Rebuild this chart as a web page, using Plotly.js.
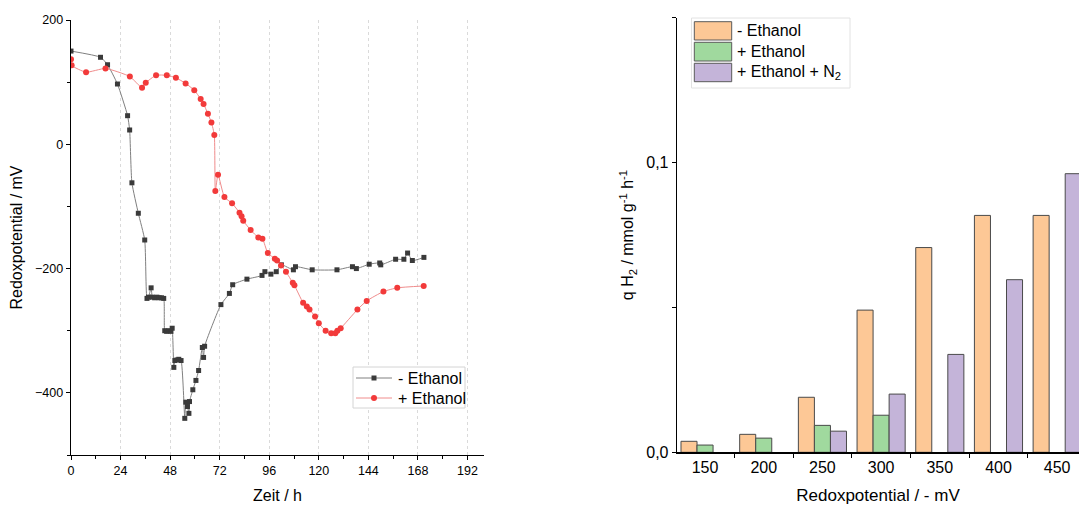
<!DOCTYPE html>
<html>
<head>
<meta charset="utf-8">
<script src="https://cdn.plot.ly/plotly-3.0.1.min.js"></script>
<style>html,body{margin:0;padding:0;background:#fff;}#chart{width:1079px;height:506px;}</style>
</head>
<body>
<div id="chart"></div>
<script>
// ---- Left chart: redox potential over time ----
const timeMinusEthanol = [0,14.3,17.7,22.5,27.4,28.4,29.5,32.6,35.7,36.8,37.5,38.8,39.4,40.5,41.6,42.7,43.8,44.9,45.4,46.3,47.4,48.4,49.0,49.8,50.3,51.3,52.2,53.3,55.1,55.6,56.4,57.1,57.4,59.0,60.5,61.8,63.6,64.2,64.7,72.6,76.7,78.3,85.2,92.5,93.9,96.8,99.4,101.9,107.7,108.7,116.8,128.8,136.3,138.2,144.4,149.5,150.0,157.2,161.2,163.0,165.3,170.9];
const redoxMinusEthanol = [150,140,128,97,46,23,-62,-111,-154,-248,-246,-231,-246,-247,-246,-247,-247,-248,-300,-301,-300,-301,-296,-359,-348,-347,-346,-348,-441,-415,-422,-433,-414,-395,-380,-364,-327,-343,-325,-258,-240,-226,-217,-211,-205,-209,-205,-194,-202,-197,-202,-202,-197,-200,-193,-191,-194,-185,-185,-175,-187,-182];

const timePlusEthanol = [0,0.3,7.3,16.7,28.5,34.4,36.2,41.2,46.4,50.8,55.5,59.7,62.8,64.2,66.3,68.0,69.4,69.9,71.2,74.3,78.0,81.6,82.6,83.4,87.0,90.7,92.7,95.3,98.7,99.8,101.7,104.1,107.4,108.2,112.4,114.2,115.5,118.2,120.0,123.3,126.0,128.0,129.0,130.6,138.7,143.2,151.3,158.0,170.8];
const redoxPlusEthanol = [137,127,116,122,109,91,99,111,111,107,98,87,73,65,49,35,15,-75,-49,-85,-95,-110,-116,-123,-138,-150,-152,-175,-184,-187,-195,-205,-223,-227,-255,-261,-266,-277,-288,-300,-304,-304,-300,-296,-266,-252,-237,-231,-228];

const lineSeriesNames = ["- Ethanol", "+ Ethanol"];
const lineColors = ["#808080", "#f08c8c"];
const markerColors = ["#3a3a3a", "#f23a3a"];
const timeTicks = [0,24,48,72,96,120,144,168,192];

// ---- Right chart: specific H2 rate per redox potential ----
const redoxCategories = [150,200,250,300,350,400,450];
const qH2MinusEthanol = [0.0038,0.0062,0.0190,0.0491,0.0707,0.0818,0.0818];
const qH2PlusEthanol = [0.0025,0.0049,0.0093,0.0128,null,null,null];
const qH2PlusEthanolN2 = [null,null,0.0073,0.0201,0.0338,0.0596,0.0962];
const barSeriesNames = ["- Ethanol", "+ Ethanol", "+ Ethanol + N<sub>2</sub>"];
const barColors = ["#fdc896", "#a0d99e", "#c4b4d9"];

const W = 1079, H = 506;
const px = x => x / W;
const py = y => 1 - y / H;
const FONT = "Liberation Sans, Arial, sans-serif";

const traces = [
  {
    x: timeMinusEthanol, y: redoxMinusEthanol, name: lineSeriesNames[0],
    type: "scatter", mode: "lines+markers", xaxis: "x", yaxis: "y",
    line: {color: lineColors[0], width: 1, shape: "spline", smoothing: 0.5},
    marker: {symbol: "square", size: 5, color: markerColors[0]}
  },
  {
    x: timePlusEthanol, y: redoxPlusEthanol, name: lineSeriesNames[1],
    type: "scatter", mode: "lines+markers", xaxis: "x", yaxis: "y",
    line: {color: lineColors[1], width: 1, shape: "spline", smoothing: 0.5},
    marker: {symbol: "circle", size: 6, color: markerColors[1]}
  }
];
const barValues = [qH2MinusEthanol, qH2PlusEthanol, qH2PlusEthanolN2];
barValues.forEach((vals, i) => {
  traces.push({
    x: redoxCategories, y: vals, name: barSeriesNames[i], type: "bar",
    xaxis: "x2", yaxis: "y2",
    marker: {color: barColors[i], line: {color: "#4a4a4a", width: 1}}
  });
});

const shapes = [];
const annotations = [];

// legend for the line chart
shapes.push({
  type: "rect", xref: "paper", yref: "paper",
  x0: px(353), x1: px(465), y0: py(408), y1: py(367),
  line: {color: "#d4d4d4", width: 1}, fillcolor: "#ffffff", layer: "above"
});
[378, 398].forEach((yc, i) => {
  shapes.push({
    type: "line", xref: "paper", yref: "paper",
    x0: px(356), x1: px(392), y0: py(yc), y1: py(yc),
    line: {color: lineColors[i], width: 1}, layer: "above"
  });
  if (i === 0) {
    shapes.push({
      type: "rect", xref: "paper", yref: "paper",
      x0: px(371.5), x1: px(376.5), y0: py(yc + 2.5), y1: py(yc - 2.5),
      line: {width: 0}, fillcolor: markerColors[0], layer: "above"
    });
  } else {
    shapes.push({
      type: "circle", xref: "paper", yref: "paper",
      x0: px(371), x1: px(377), y0: py(yc + 3), y1: py(yc - 3),
      line: {width: 0}, fillcolor: markerColors[1], layer: "above"
    });
  }
  annotations.push({
    xref: "paper", yref: "paper", x: px(396), y: py(yc),
    xanchor: "left", yanchor: "middle", showarrow: false,
    text: lineSeriesNames[i], font: {size: 16, color: "#000", family: FONT}
  });
});

// legend for bars (large swatches as in reference)
shapes.push({
  type: "rect", xref: "paper", yref: "paper",
  x0: px(691.5), x1: px(850), y0: py(88), y1: py(18),
  line: {color: "#e2e2e2", width: 1}, fillcolor: "#ffffff", layer: "above"
});
const swatchRows = [[21.7, 40], [42.3, 61], [63.3, 81.7]];
swatchRows.forEach((r, i) => {
  shapes.push({
    type: "rect", xref: "paper", yref: "paper",
    x0: px(694.3), x1: px(731.7), y0: py(r[1]), y1: py(r[0]),
    line: {color: "#5a5a5a", width: 1}, fillcolor: barColors[i], layer: "above"
  });
  annotations.push({
    xref: "paper", yref: "paper", x: px(735), y: py((r[0] + r[1]) / 2),
    xanchor: "left", yanchor: "middle", showarrow: false,
    text: barSeriesNames[i], font: {size: 16, color: "#000", family: FONT}
  });
});

const layout = {
  width: W, height: H,
  margin: {l: 0, r: 0, t: 0, b: 0},
  paper_bgcolor: "#fff", plot_bgcolor: "#fff",
  font: {family: FONT, color: "#000"},
  separators: ",.",
  showlegend: false,
  barmode: "group", bargap: 0.18, bargroupgap: 0,
  xaxis: {
    domain: [px(71), px(484)], range: [0, 200], anchor: "y",
    tickvals: timeTicks, ticks: "outside", ticklen: 4, tickwidth: 1, tickcolor: "#000",
    showline: true, linecolor: "#000", linewidth: 1.3, zeroline: false,
    showgrid: true, gridcolor: "#dadada", griddash: "dot", gridwidth: 1,
    minor: {dtick: 12, tick0: 0, ticks: "outside", ticklen: 2.5, tickcolor: "#000", showgrid: false},
    tickfont: {size: 12.5}, automargin: false,
    title: {text: "Zeit / h", font: {size: 16}, standoff: 12}
  },
  yaxis: {
    domain: [py(455), py(20)], range: [-500, 200], anchor: "x",
    dtick: 200, tick0: 0, ticks: "outside", ticklen: 4, tickwidth: 1, tickcolor: "#000",
    showline: true, linecolor: "#000", linewidth: 1.3, zeroline: false, showgrid: false,
    minor: {dtick: 100, tick0: 0, ticks: "outside", ticklen: 2.5, tickcolor: "#000", showgrid: false},
    tickfont: {size: 12.5}, automargin: false,
    title: {text: "Redoxpotential / mV", font: {size: 16}, standoff: 8}
  },
  xaxis2: {
    domain: [px(677), 1], range: [126.1, 468.6], anchor: "y2",
    tickvals: redoxCategories, ticks: "", showline: true, linecolor: "#000", linewidth: 1.3,
    zeroline: false, showgrid: false,
    minor: {dtick: 50, tick0: 175, ticks: "outside", ticklen: 4, tickcolor: "#000", showgrid: false},
    tickfont: {size: 16}, automargin: false,
    title: {text: "Redoxpotential / - mV", font: {size: 17}, standoff: 14}
  },
  yaxis2: {
    domain: [py(452.3), py(17.9)], range: [0, 0.15], anchor: "x2",
    tickvals: [0, 0.1], tickformat: ".1f", ticks: "outside", ticklen: 4, tickcolor: "#000",
    showline: true, linecolor: "#000", linewidth: 1.3, zeroline: false, showgrid: false,
    minor: {dtick: 0.05, tick0: 0, ticks: "outside", ticklen: 4, tickcolor: "#000", showgrid: false},
    tickfont: {size: 16}, automargin: false,
    title: {text: "q H<sub>2</sub> / mmol g<sup>-1</sup> h<sup>-1</sup>", font: {size: 16}, standoff: 8}
  },
  shapes: shapes,
  annotations: annotations
};

Plotly.newPlot("chart", traces, layout, {displayModeBar: false, staticPlot: true});
</script>
</body>
</html>
